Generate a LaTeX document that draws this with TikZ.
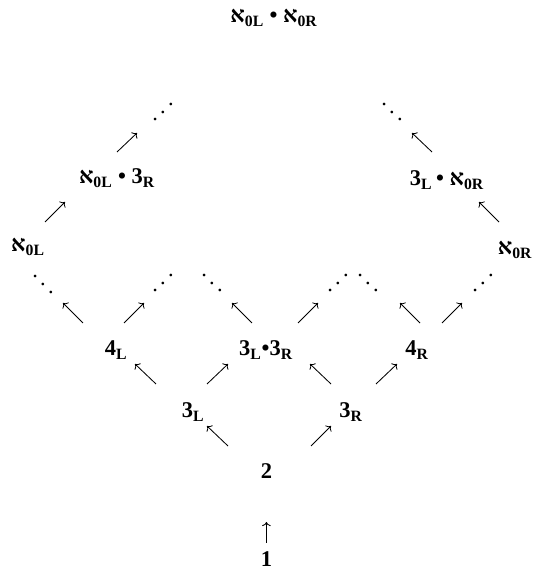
\documentclass[tikz,border=0pt]{standalone}
\usepackage{fontspec}
\setmainfont{Liberation Serif}
\usepackage{tikz}
\usetikzlibrary{arrows.meta,calc}
\newcommand{\alef}{א}
\newcommand{\lsub}[1]{\textsubscript{#1}}
\newcommand{\dndots}{\raisebox{0.7em}{.}\hspace{0.1em}\raisebox{0.35em}{.}\hspace{0.1em}.}
\newcommand{\updots}{.\hspace{0.1em}\raisebox{0.35em}{.}\hspace{0.1em}\raisebox{0.7em}{.}}

\begin{document}
\begin{tikzpicture}[>=To,semithick,every node/.style={font=\fontsize{16}{19}\selectfont\bfseries,inner sep=1pt},
    dots/.style={font=\fontsize{16}{19}\selectfont\mdseries,inner sep=0pt}]
  \useasboundingbox (0,0) rectangle (13.3,14.35);
  % bottom
  \node (n1) at (6.66,0.375) {1};
  \node (n2) at (6.66,2.575) {2};
  \node (n3L) at (4.825,4.05) {3\lsub{L}};
  \node (n3R) at (8.775,4.05) {3\lsub{R}};
  \node (n4L) at (2.9,5.6) {4\lsub{L}};
  \node (n33) at (6.65,5.6) {3\lsub{L}\textbullet3\lsub{R}};
  \node (n4R) at (10.425,5.6) {4\lsub{R}};
  % dots above the fourth row
  \node[dots] (d1) at (1.075,7.24) {\dndots};
  \node[dots] (d2) at (4.075,7.275) {\updots};
  \node[dots] (d3) at (5.3,7.275) {\dndots};
  \node[dots] (d4) at (8.45,7.275) {\updots};
  \node[dots] (d5) at (9.2,7.275) {\dndots};
  \node[dots] (d6) at (12.075,7.275) {\updots};
  % aleph levels
  \node (aL) at (0.7,8.17) {\alef\lsub{0L}};
  \node (aR) at (12.875,8.1) {\alef\lsub{0R}};
  \node (aL3R) at (2.925,9.9) {\alef\lsub{0L} \textbullet\ 3\lsub{R}};
  \node (n3LaR) at (11.175,9.85) {3\lsub{L}\,\textbullet\ \alef\lsub{0R}};
  \node[dots] (dtl) at (4.075,11.55) {\updots};
  \node[dots] (dtr) at (9.8,11.55) {\dndots};
  \node (top) at (6.85,13.9) {\alef\lsub{0L} \textbullet\ \alef\lsub{0R}};
  % arrows
  \draw[->] ($(n1)+(0,0.4)$) -- ($(n2)+(0,-1.275)$);
  \draw[->] ($(n2)+(-0.96,0.625)$) -- ($(n3L)+(0.35,-0.35)$);
  \draw[->] ($(n2)+(1.115,0.625)$) -- ($(n3R)+(-0.5,-0.35)$);
  \draw[->] ($(n3L)+(-0.925,0.7)$) -- ($(n4L)+(0.475,-0.35)$);
  \draw[->] ($(n3L)+(0.35,0.7)$) -- ($(n33)+(-0.95,-0.35)$);
  \draw[->] ($(n3R)+(-0.5,0.7)$) -- ($(n33)+(1.1,-0.35)$);
  \draw[->] ($(n3R)+(0.625,0.7)$) -- ($(n4R)+(-0.5,-0.35)$);
  \draw[->] ($(n4L)+(-0.825,0.675)$) -- ($(d1)+(0.5,-0.465)$);
  \draw[->] ($(n4L)+(0.2,0.675)$) -- ($(d2)+(-0.475,-0.5)$);
  \draw[->] ($(n33)+(-0.35,0.675)$) -- ($(d3)+(0.5,-0.5)$);
  \draw[->] ($(n33)+(0.8,0.675)$) -- ($(d4)+(-0.5,-0.5)$);
  \draw[->] ($(n4R)+(0.075,0.675)$) -- ($(d5)+(0.8,-0.5)$);
  \draw[->] ($(n4R)+(0.625,0.675)$) -- ($(d6)+(-0.525,-0.5)$);
  \draw[->] ($(aL)+(0.425,0.63)$) -- ($(aL3R)+(-1.3,-0.6)$);
  \draw[->] ($(aL3R)+(0,0.65)$) -- ($(dtl)+(-0.65,-0.525)$);
  \draw[->] ($(aR)+(-0.4,0.7)$) -- ($(n3LaR)+(0.8,-0.55)$);
  \draw[->] ($(n3LaR)+(-0.375,0.7)$) -- ($(dtr)+(0.5,-0.525)$);
\end{tikzpicture}
\end{document}
